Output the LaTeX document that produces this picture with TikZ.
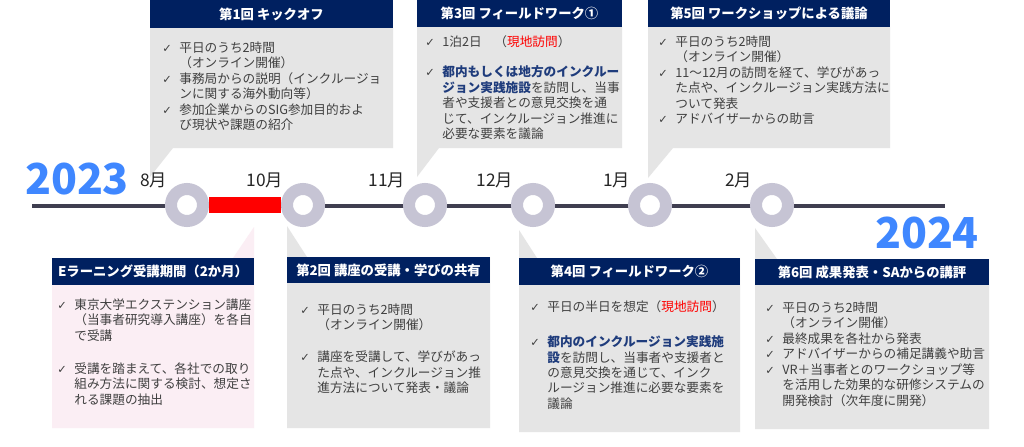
\documentclass[tikz,border=0pt]{standalone}
\usepackage{fontspec}
\setmainfont{Noto Sans CJK JP}
\newfontfamily\chkfont{DejaVu Sans}
\definecolor{navy}{HTML}{002060}
\definecolor{boxgray}{HTML}{E5E5E5}
\definecolor{boxpink}{HTML}{FBEEF4}
\definecolor{txtgray}{HTML}{404040}
\definecolor{deepblue}{HTML}{1F3C7C}
\definecolor{yrblue}{HTML}{3F87FF}
\definecolor{ringgray}{HTML}{C6C4D4}
\definecolor{linegray}{HTML}{3F3E50}
\newcommand{\chk}{\makebox[1.35em][l]{\chkfont\fontsize{8.5}{8.5}\selectfont ✓}}
\newcommand{\hang}{\hspace*{1.35em}}
\newcommand{\emb}[1]{\textbf{\color{deepblue}#1}}
\newcommand{\visit}{\textcolor{red}{現地訪問}}
\begin{document}
\begin{tikzpicture}[x=0.75pt, y=-0.75pt,
    head/.style={text=white, font=\fontsize{10}{12}\selectfont\bfseries, inner sep=0pt},
    txt/.style={anchor=north west, align=left, inner sep=0pt, text=txtgray, font=\fontsize{9.5}{11.6}\selectfont},
    mon/.style={anchor=south east, font=\fontsize{13}{15}\selectfont, text=black!85, inner sep=1pt, xshift=-2pt},
    yr/.style={font=\fontsize{32}{36}\selectfont\bfseries, text=yrblue, inner sep=0pt},
    ring/.style={circle, draw=ringgray, fill=white, line width=9pt, minimum size=24pt, inner sep=0pt}]
  \useasboundingbox[fill=white] (0,0) rectangle (1024,446);
  % upper boxes
  \fill[boxgray] (150,28) -- (393,28) -- (393,148) -- (173,148) -- (150,177) -- cycle;
  \fill[navy] (150,0) rectangle (393,28);
  \node[head] (h1) at (271.5,14) {第1回 キックオフ};
  \node[txt] (t1) at (162,41.5) {\chk 平日のうち2時間\\ \hang（オンライン開催）\\ \chk 事務局からの説明（インクルージョ\\ \hang ンに関する海外動向等）\\ \chk 参加企業からのSIG参加目的およ\\ \hang び現状や課題の紹介};
  \fill[boxgray] (417,27) -- (622,27) -- (622,148) -- (439,148) -- (417,177) -- cycle;
  \fill[navy] (417,0) rectangle (622,27);
  \node[head] (h3) at (519.5,13.5) {第3回 フィールドワーク①};
  \node[txt] (t3) at (425,35.5) {\chk 1泊2日　（\visit）\\[10.9pt] \chk \emb{都内もしくは地方のインクルー}\\ \hang \emb{ジョン実践施設}を訪問し、当事\\ \hang 者や支援者との意見交換を通\\ \hang じて、インクルージョン推進に\\ \hang 必要な要素を議論};
  \fill[boxgray] (648,27) -- (890,27) -- (890,148) -- (673,148) -- (648,178) -- cycle;
  \fill[navy] (648,0) rectangle (890,27);
  \node[head] (h5) at (769,13.5) {第5回 ワークショップによる議論};
  \node[txt] (t5) at (658,35.5) {\chk 平日のうち2時間\\ \hang（オンライン開催）\\ \chk 11～12月の訪問を経て、学びがあっ\\ \hang た点や、インクルージョン実践方法に\\ \hang ついて発表\\ \chk アドバイザーからの助言};
  % lower boxes
  \fill[boxpink] (52,258) -- (233,258) -- (254,227) -- (254,428) -- (52,428) -- cycle;
  \fill[navy] (52,258) rectangle (254,285);
  \node[head] (he) at (153,271.5) {Eラーニング受講期間（2か月）};
  \node[txt] (te) at (57,298.5) {\chk 東京大学エクステンション講座\\ \hang（当事者研究導入講座）を各自\\ \hang で受講\\[13pt] \chk 受講を踏まえて、各社での取り\\ \hang 組み方法に関する検討、想定さ\\ \hang れる課題の抽出};
  \fill[boxgray] (287,226) -- (307,257) -- (490,257) -- (490,428) -- (287,428) -- cycle;
  \fill[navy] (287,257) rectangle (490,283);
  \node[head] (h2) at (388.5,270) {第2回 講座の受講・学びの共有};
  \node[txt] (t2) at (300,303.5) {\chk 平日のうち2時間\\ \hang（オンライン開催）\\[12.4pt] \chk 講座を受講して、学びがあっ\\ \hang た点や、インクルージョン推\\ \hang 進方法について発表・議論};
  \fill[boxgray] (519,230) -- (537,258) -- (740,258) -- (740,432) -- (519,432) -- cycle;
  \fill[navy] (519,258) rectangle (740,285);
  \node[head] (h4) at (629.5,271.5) {第4回 フィールドワーク②};
  \node[txt] (t4) at (530,300.5) {\chk 平日の半日を想定（\visit）\\[14.6pt] \chk \emb{都内のインクルージョン実践施}\\ \hang \emb{設}を訪問し、当事者や支援者と\\ \hang の意見交換を通じて、インク\\ \hang ルージョン推進に必要な要素を\\ \hang 議論};
  \fill[boxgray] (755,228) -- (777,259) -- (989,259) -- (989,429) -- (755,429) -- cycle;
  \fill[navy] (755,259) rectangle (989,285);
  \node[head] (h6) at (872,272) {第6回 成果発表・SAからの講評};
  \node[txt] (t6) at (765,301.5) {\chk 平日のうち2時間\\ \hang（オンライン開催）\\ \chk 最終成果を各社から発表\\ \chk アドバイザーからの補足講義や助言\\ \chk VR＋当事者とのワークショップ等\\ \hang を活用した効果的な研修システムの\\ \hang 開発検討（次年度に開発）};
  % timeline
  \coordinate (start) at (32,206);
  \coordinate (end) at (945,206);
  \draw[linegray, line width=3.5pt] (start) -- (end);
  \node[ring] (m1) at (187,205) {};
  \node[ring] (m2) at (303,205) {};
  \node[ring] (m3) at (425,205) {};
  \node[ring] (m4) at (533,205) {};
  \node[ring] (m5) at (650,205) {};
  \node[ring] (m6) at (772,205) {};
  \draw[red, line width=12pt] (m1) -- (m2);
  \node[mon] (l1) at (m1.north west) {8月};
  \node[mon] (l2) at (m2.north west) {10月};
  \node[mon] (l3) at (m3.north west) {11月};
  \node[mon] (l4) at (m4.north west) {12月};
  \node[mon] (l5) at (m5.north west) {1月};
  \node[mon] (l6) at (m6.north west) {2月};
  \node[yr] (y1) at (77,179) {2023};
  \node[yr] (y2) at (927,233) {2024};
\end{tikzpicture}
\end{document}
